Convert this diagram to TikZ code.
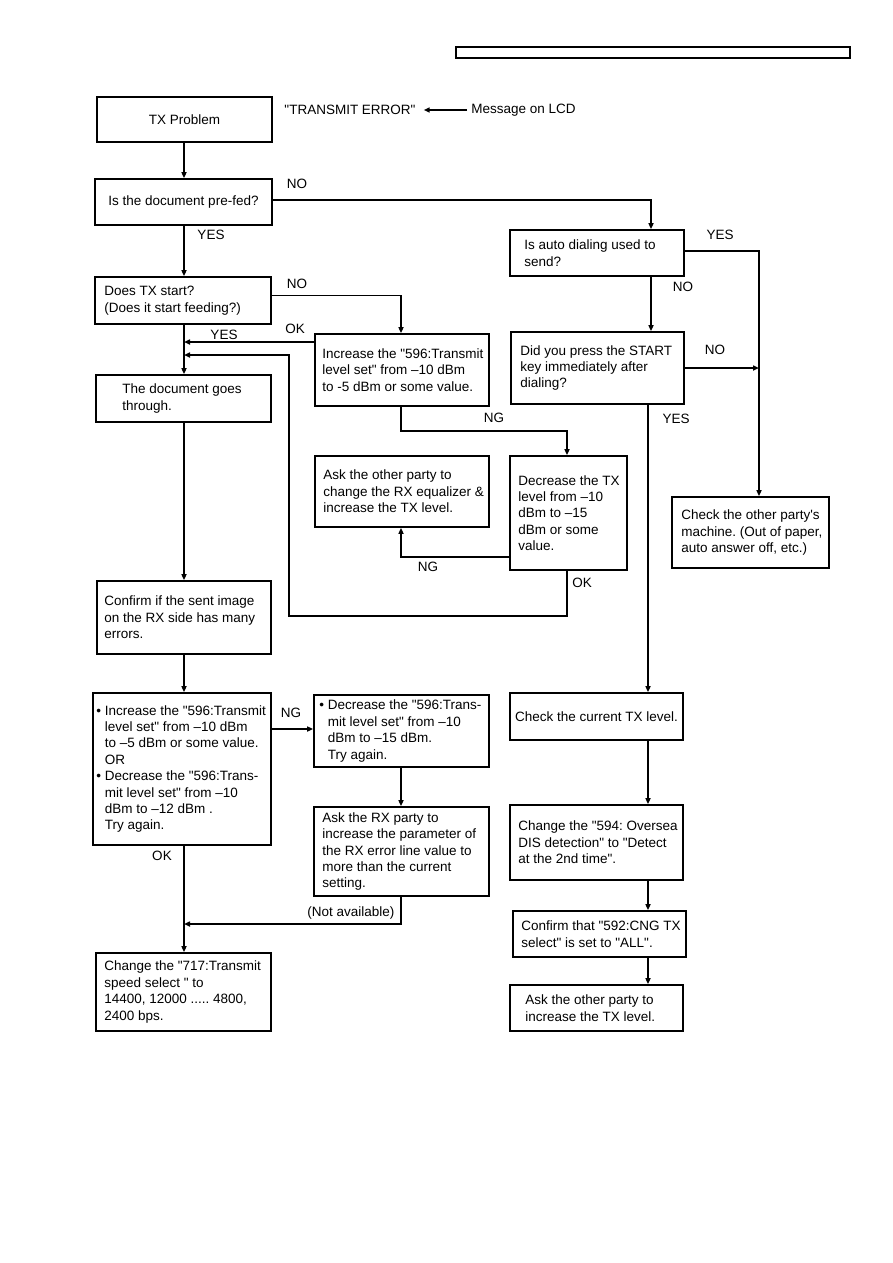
\documentclass[tikz,border=0pt]{standalone}
\usepackage{fontspec}
\setmainfont{Liberation Sans}[Ligatures=TeXOff]
\usetikzlibrary{arrows.meta}
\frenchspacing
\newcommand\fs{\fontsize{13.5}{16.4}\selectfont\frenchspacing}
\newcommand\ind{\hspace*{0.63em}}
\newcommand\bx[6]{%
  \pgfmathsetmacro\bxc{(#2+#4)/2}\pgfmathsetmacro\byc{(#3+#5)/2}%
  \pgfmathsetmacro\bw{#4-#2}\pgfmathsetmacro\bh{#5-#3}%
  \node[box, minimum width=\bw pt, minimum height=\bh pt] (#1) at (\bxc,\byc) {#6};}
\newcommand\tx[4]{\node[txt, anchor=west] (#1) at ([xshift=#3pt]#2.west) {#4};}
\begin{document}
\begin{tikzpicture}[x=1pt,y=-1pt,
  box/.style={draw, line width=1.7pt, inner sep=0pt, align=center, font=\fs},
  txt/.style={inner sep=0pt, align=left, font=\fs},
  lbl/.style={inner sep=0pt, font=\fs},
  conn/.style={line width=1.6pt},
  arr/.style={conn, -{Triangle[length=6pt,width=5pt]}}]
\useasboundingbox (0,0) rectangle (893,1263);
\fill[white] (0,0) rectangle (893,1263);
% header bar
\node[draw, line width=1.1pt, minimum width=394pt, minimum height=11pt, inner sep=0pt] (hdr) at (653,52.5) {};
% boxes
\bx{tx}{97}{97}{272}{142}{TX Problem}
\bx{pre}{95}{179}{272}{225}{Is the document pre-fed?}
\bx{auto}{510}{230}{684}{276}{}
\bx{start}{95}{277}{271}{324}{}
\bx{press}{511}{332}{684}{404}{}
\bx{other}{672}{497}{829}{568}{}
\bx{inc}{315}{334}{489}{406}{}
\bx{dec}{510}{456}{627}{570}{}
\bx{askeq}{315}{456}{489}{527}{}
\bx{goes}{96}{375}{271}{422}{}
\bx{conf}{97}{581}{271}{654}{}
\bx{incdec}{93}{693}{271}{845}{}
\bx{dec596}{314}{695}{489}{767}{}
\bx{askrx}{314}{807}{489}{896}{}
\bx{chg717}{96}{953}{271}{1031}{}
\bx{cur}{510}{693}{683}{740}{Check the current TX level.}
\bx{chg594}{510}{805}{683}{880}{}
\bx{c592}{513}{911}{686}{957}{}
\bx{askTX}{510}{985}{683}{1031}{}
% texts
\tx{autoT}{auto}{15}{Is auto dialing used to\\send?}
\tx{startT}{start}{10}{Does TX start?\\(Does it start feeding?)}
\tx{pressT}{press}{10}{Did you press the START\\key immediately after\\dialing?}
\tx{otherT}{other}{10}{Check the other party's\\machine. (Out of paper,\\auto answer off, etc.)}
\tx{incT}{inc}{8}{Increase the "596:Transmit\\level set" from –10 dBm\\to -5 dBm or some value.}
\tx{decT}{dec}{9}{Decrease the TX\\level from –10\\dBm to –15\\dBm or some\\value.}
\tx{askeqT}{askeq}{9}{Ask the other party to\\change the RX equalizer \&\\increase the TX level.}
\tx{goesT}{goes}{27}{The document goes\\through.}
\tx{confT}{conf}{8}{Confirm if the sent image\\on the RX side has many\\errors.}
\tx{incdecT}{incdec}{4}{•\ Increase the "596:Transmit\\\ind level set" from –10 dBm\\\ind to –5 dBm or some value.\\\ind OR\\•\ Decrease the "596:Trans-\\\ind mit level set" from –10\\\ind dBm to –12 dBm .\\\ind Try again.}
\tx{dec596T}{dec596}{6}{•\ Decrease the "596:Trans-\\\ind mit level set" from –10\\\ind dBm to –15 dBm.\\\ind Try again.}
\tx{askrxT}{askrx}{9}{Ask the RX party to\\increase the  parameter of\\the RX error line value to\\more than the current\\setting.}
\tx{chg717T}{chg717}{9}{Change the "717:Transmit\\speed select " to\\14400, 12000 ..... 4800,\\2400 bps.}
\tx{chg594T}{chg594}{9}{Change the "594: Oversea\\DIS detection" to "Detect\\at the 2nd time".}
\tx{c592T}{c592}{9}{Confirm that "592:CNG TX\\select" is set to "ALL".}
\tx{askTXT}{askTX}{16}{Ask the other party to\\increase the TX level.}
% top message
\node[lbl] (terr) at (350,110) {"TRANSMIT ERROR"};
\node[lbl] (msg) at (523.5,110) {Message on LCD};
% coordinates
\coordinate (cL) at (184,0);
\coordinate (cA) at (651,0);
\coordinate (cM) at (648,0);
\coordinate (cR) at (759,0);
\coordinate (cLoop) at (289,0);
\coordinate (cD) at (567,0);
\coordinate (cI) at (401,0);
\coordinate (yOK1) at (0,342);
\coordinate (yOK2) at (0,355);
\coordinate (yLoop) at (0,616);
\coordinate (yNG1) at (0,431);
\coordinate (yNG2) at (0,557);
\coordinate (yNG3) at (0,729);
\coordinate (yNA) at (0,924);
% connectors
\draw[arr, shorten >=8pt, shorten <=4pt] (msg.west) -- (terr.east);
\draw[arr] (tx.south -| cL) -- (pre.north -| cL);
\draw[arr] ([yshift=2pt]pre.east) -| (auto.north -| cA);
\draw[arr] (pre.south -| cL) -- (start.north -| cL);
\draw[arr] ([yshift=2pt]auto.east) -| (other.north -| cR);
\draw[arr] (auto.south -| cA) -- (press.north -| cA);
\draw[arr] (press.east) -- (press.east -| cR);
\draw[arr] (press.south -| cM) -- (cur.north -| cM);
\draw[arr] (cur.south -| cM) -- (chg594.north -| cM);
\draw[arr] (chg594.south -| cM) -- (c592.north -| cM);
\draw[arr] (c592.south -| cM) -- (askTX.north -| cM);
\draw[arr] ([yshift=5pt]start.east) -| (inc.north -| cI);
\draw[arr] (start.south -| cL) -- (goes.north -| cL);
\draw[arr] (inc.west |- yOK1) -- (cL |- yOK1);
\draw[arr] (dec.south -| cD) -- (cD |- yLoop) -- (cLoop |- yLoop) -- (cLoop |- yOK2) -- (cL |- yOK2);
\draw[arr] (inc.south -| cI) -- (cI |- yNG1) -- (cD |- yNG1) -- (dec.north -| cD);
\draw[arr] (dec.west |- yNG2) -- (cI |- yNG2) -- (askeq.south -| cI);
\draw[arr] (goes.south -| cL) -- (conf.north -| cL);
\draw[arr] (conf.south -| cL) -- (incdec.north -| cL);
\draw[arr] (incdec.east |- yNG3) -- (dec596.west |- yNG3);
\draw[arr] (dec596.south -| cI) -- (askrx.north -| cI);
\draw[arr] (askrx.south -| cI) -- (cI |- yNA) -- (cL |- yNA);
\draw[arr] (incdec.south -| cL) -- (chg717.north -| cL);
% labels
\node[lbl] (lNO1) at (297,184) {NO};
\node[lbl] (lYES1) at (211,235) {YES};
\node[lbl] (lYES2) at (720,235) {YES};
\node[lbl] (lNO2) at (683,287) {NO};
\node[lbl] (lNO3) at (297,284) {NO};
\node[lbl] (lOK1) at (295,329) {OK};
\node[lbl] (lYES3) at (224,335) {YES};
\node[lbl] (lNO4) at (715,350) {NO};
\node[lbl] (lYES4) at (676,419) {YES};
\node[lbl] (lNG1) at (494,418) {NG};
\node[lbl] (lNG2) at (428,567) {NG};
\node[lbl] (lOK2) at (582,583) {OK};
\node[lbl] (lNG3) at (291,713) {NG};
\node[lbl] (lOK3) at (162,856) {OK};
\node[lbl] (lNA) at (351,913) {(Not available)};
\end{tikzpicture}
\end{document}
